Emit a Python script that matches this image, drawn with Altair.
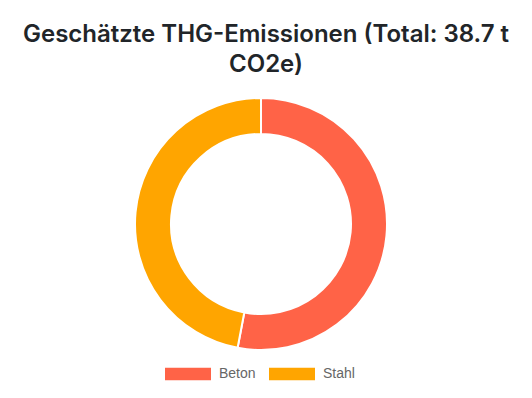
import altair as alt
import pandas as pd

materials = ["Beton", "Stahl"]
emissions = [20.5, 18.2]
colors = ["#FF6347", "#FFA500"]

df = pd.DataFrame({"Material": materials, "Emission": emissions, "Order": [0, 1]})

chart = alt.Chart(df).mark_arc(
    innerRadius=90, outerRadius=126, stroke="white", strokeWidth=2
).encode(
    theta=alt.Theta("Emission:Q", stack=True),
    order=alt.Order("Order:Q"),
    color=alt.Color(
        "Material:N",
        scale=alt.Scale(domain=materials, range=colors),
        legend=alt.Legend(
            title=None,
            orient="none",
            direction="horizontal",
            legendX=165,
            legendY=271,
            symbolType="M-1,-0.27H1V0.27H-1Z",
            symbolSize=2116,
            symbolStrokeWidth=0,
            symbolOpacity=1,
            labelFont="Liberation Sans",
            labelFontSize=14,
            labelColor="#666666",
            labelOffset=8,
            columnPadding=13,
        ),
    ),
    x=alt.value(261),
    y=alt.value(144),
).properties(
    width=532,
    height=318,
    padding={"top": 80, "left": 0, "right": 0, "bottom": 0},
    autosize=alt.AutoSizeParams(type="none"),
    title=alt.TitleParams(
        text=["Geschätzte THG-Emissionen (Total: 38.7 t", "CO2e)"],
        font="Inter",
        fontSize=24,
        fontWeight=600,
        color="#212529",
        anchor="middle",
        lineHeight=30,
        offset=3,
    ),
).configure_view(stroke=None)

chart.save("out.html", embed_options={"renderer": "svg", "actions": False})
